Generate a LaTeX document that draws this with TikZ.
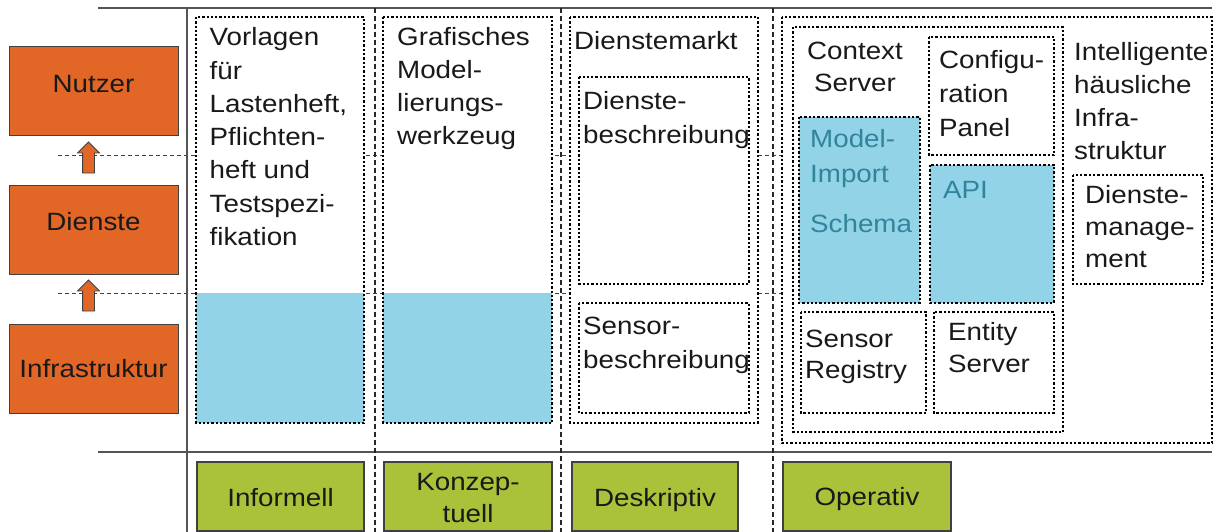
\documentclass[tikz,border=0pt]{standalone}
\usepackage{fontspec}
\setmainfont{Liberation Sans}[FakeStretch=1.11]
\usetikzlibrary{shapes.arrows}
\definecolor{lvorange}{HTML}{E26626}
\definecolor{lvblue}{HTML}{93D3E7}
\definecolor{lvgreen}{HTML}{AAC13A}
\definecolor{lvteal}{HTML}{31849B}
\definecolor{lvline}{HTML}{555555}
\tikzset{
  txt/.style={inner sep=0pt, anchor=base west, align=left, text=black!90,
    font=\fontsize{25}{33.3}\selectfont},
  dotbox/.style={draw=black, line width=2.6pt, dash pattern=on 2.3pt off 2pt, fill=white},
  bluebox/.style={draw=black, line width=2.6pt, dash pattern=on 2.3pt off 2pt, fill=lvblue},
  levelbox/.style={draw=black!75, line width=1pt, fill=lvorange, inner sep=0pt},
  kindbox/.style={draw=black!75, line width=1.2pt, fill=lvgreen, inner sep=0pt},
  solidline/.style={draw=lvline, line width=1.5pt},
  vdash/.style={draw=black!85, line width=1.2pt, dash pattern=on 5pt off 3pt},
  hdash/.style={draw=black!75, line width=1pt, dash pattern=on 4pt off 3pt},
  uparrow/.style={single arrow, draw=black!75, line width=0.8pt, fill=lvorange, rotate=90,
    minimum height=31pt, minimum width=21pt, inner sep=5.5pt, single arrow head extend=5pt}
}
\begin{document}
\begin{tikzpicture}[x=1pt,y=-1pt]
\useasboundingbox (0,0) rectangle (1218,532);
% grid lines
\coordinate (hd1a) at (58,156); \coordinate (hd1b) at (1205,156);
\coordinate (hd2a) at (58,293); \coordinate (hd2b) at (1205,293);
\draw[hdash] (hd1a) -- (hd1b);
\draw[hdash] (hd2a) -- (hd2b);
\coordinate (tl) at (98,8); \coordinate (tr) at (1212,8);
\coordinate (bl) at (98,452); \coordinate (br) at (1212,452);
\draw[solidline] (tl) -- (tr);
\draw[solidline] (bl) -- (br);
\coordinate (v0a) at (187,8); \coordinate (v0b) at (187,532);
\draw[solidline] (v0a) -- (v0b);
\coordinate (v1a) at (375,8); \coordinate (v1b) at (375,532);
\coordinate (v2a) at (561,8); \coordinate (v2b) at (561,532);
\coordinate (v3a) at (773,8); \coordinate (v3b) at (773,532);
\draw[vdash] (v1a) -- (v1b);
\draw[vdash] (v2a) -- (v2b);
\draw[vdash] (v3a) -- (v3b);

% level boxes
\path[levelbox] (9,47) rectangle (178,136);
\node[txt, anchor=base] (nutzer) at (93.5,93) {Nutzer};
\path[levelbox] (9,185) rectangle (178,274);
\node[txt, anchor=base] (dienste) at (93.5,230) {Dienste};
\path[levelbox] (9,324) rectangle (178,413);
\node[txt, anchor=base] (infra) at (93.5,377) {Infrastruktur};
\node[uparrow] (up1) at (88.5,160.5) {};
\node[uparrow] (up2) at (88.5,298.5) {};

% column 1
\path[fill=white] (196,17) rectangle (364,423);
\path[fill=lvblue] (196,293) rectangle (364,423);
\draw[dotbox, fill=none] (196,17) rectangle (364,423);
\node[txt] (vorl) at (209.5,245.5) {Vorlagen\\für\\Lastenheft,\\Pflichten-\\heft und\\Testspezi-\\fikation};

% column 2
\path[fill=white] (383,17) rectangle (552,423);
\path[fill=lvblue] (383,293) rectangle (552,423);
\draw[dotbox, fill=none] (383,17) rectangle (552,423);
\node[txt] (graf) at (397,145) {Grafisches\\Model-\\lierungs-\\werkzeug};

% column 3
\draw[dotbox] (570,17) rectangle (758,423);
\node[txt] (markt) at (574,50) {Dienstemarkt};
\draw[dotbox] (579,77) rectangle (749,284);
\node[txt] (dbesch) at (583,143.3) {Dienste-\\beschreibung};
\draw[dotbox] (579,303) rectangle (749,413);
\node[txt, font=\fontsize{25}{34}\selectfont] (sbesch) at (583,368) {Sensor-\\beschreibung};

% column 4
\draw[dotbox] (782,17) rectangle (1212,443);
\draw[dotbox] (793,27) rectangle (1063,432);
\node[txt, anchor=base, align=center, font=\fontsize{25}{32}\selectfont] (ctx) at (855,92) {Context\\Server};
\draw[bluebox] (799,117) rectangle (920,303);
\node[txt, text=lvteal, font=\fontsize{25}{35}\selectfont] (model) at (810,232) {Model-\\Import\\[15pt]Schema};
\draw[dotbox] (929,37) rectangle (1054,155);
\node[txt, font=\fontsize{25}{34.5}\selectfont] (config) at (939,137) {Configu-\\ration\\Panel};
\draw[bluebox] (930,165) rectangle (1054,303);
\node[txt, text=lvteal] (api) at (943,198) {API};
\draw[dotbox] (801,312) rectangle (926,413);
\node[txt, font=\fontsize{25}{31}\selectfont] (sreg) at (805,378) {Sensor\\Registry};
\draw[dotbox] (934,312) rectangle (1054,413);
\node[txt, font=\fontsize{25}{32}\selectfont] (entity) at (948,372) {Entity\\Server};
\node[txt] (intel) at (1074,160) {Intelligente\\häusliche\\Infra-\\struktur};
\draw[dotbox] (1073,175) rectangle (1203,284);
\node[txt, font=\fontsize{25}{32}\selectfont] (dman) at (1085,267) {Dienste-\\manage-\\ment};

% kind boxes
\path[kindbox] (197,462) rectangle (364,531);
\node[txt, anchor=base] (inf) at (280.5,506) {Informell};
\path[kindbox] (384,462) rectangle (552,531);
\node[txt, anchor=base, align=center, font=\fontsize{25}{32}\selectfont] (konz) at (468,522) {Konzep-\\tuell};
\path[kindbox] (572,462) rectangle (738,531);
\node[txt, anchor=base] (desk) at (655,506) {Deskriptiv};
\path[kindbox] (783,462) rectangle (951,531);
\node[txt, anchor=base] (oper) at (867,505) {Operativ};
\end{tikzpicture}
\end{document}
